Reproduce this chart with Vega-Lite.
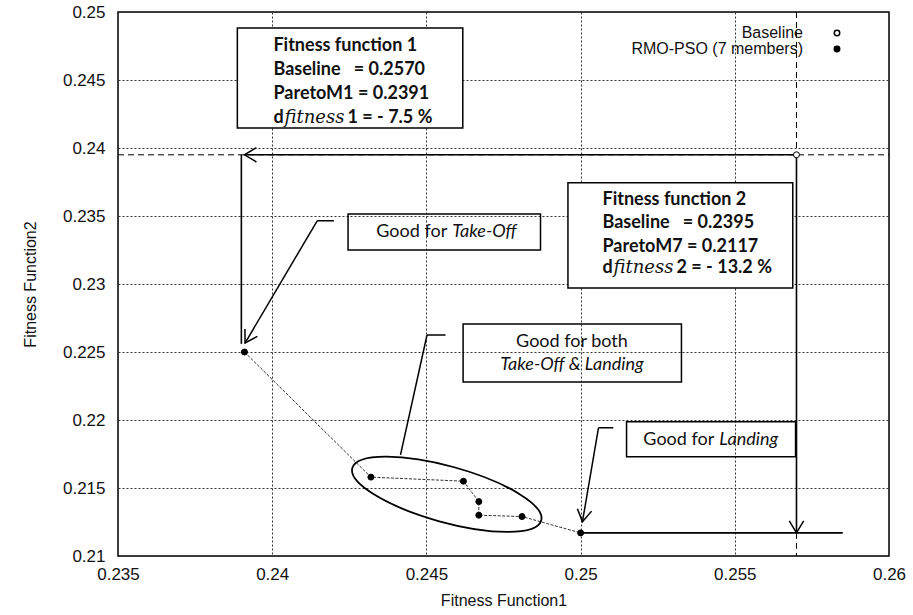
{
  "$schema": "https://vega.github.io/schema/vega-lite/v6.json",
  "width": 771,
  "height": 544,
  "autosize": {"type": "none"},
  "padding": {"left": 118, "top": 12, "right": 24, "bottom": 59},
  "background": "white",
  "config": {
    "view": {"stroke": "black", "strokeWidth": 1.5},
    "axis": {
      "labelFont": "Liberation Sans", "labelFontSize": 17, "labelColor": "#111",
      "titleFont": "Liberation Sans", "titleFontSize": 16, "titleFontWeight": "normal", "titleColor": "#111",
      "domain": false, "ticks": false, "grid": true, "gridDash": [2, 2], "gridColor": "#333", "gridWidth": 1,
      "labelFlush": false, "labelOverlap": false
    }
  },
  "datasets": {
    "pts": [
      {"x": 0.2391, "y": 0.2250, "series": "RMO-PSO (7 members)", "m": 1},
      {"x": 0.2432, "y": 0.2158, "series": "RMO-PSO (7 members)", "m": 2},
      {"x": 0.2462, "y": 0.2155, "series": "RMO-PSO (7 members)", "m": 3},
      {"x": 0.2467, "y": 0.2140, "series": "RMO-PSO (7 members)", "m": 4},
      {"x": 0.2467, "y": 0.2130, "series": "RMO-PSO (7 members)", "m": 5},
      {"x": 0.2481, "y": 0.2129, "series": "RMO-PSO (7 members)", "m": 6},
      {"x": 0.2500, "y": 0.2117, "series": "RMO-PSO (7 members)", "m": 7},
      {"x": 0.2570, "y": 0.2395, "series": "Baseline", "m": 0}
    ],
    "dashed": [
      {"x": 0.235, "y": 0.2395, "x2": 0.26, "y2": 0.2395},
      {"x": 0.257, "y": 0.25, "x2": 0.257, "y2": 0.2395},
      {"x": 0.257, "y": 0.2117, "x2": 0.257, "y2": 0.21}
    ],
    "solid": [
      {"x": 0.2391, "y": 0.2395, "x2": 0.2570, "y2": 0.2395},
      {"x": 0.2390, "y": 0.2395, "x2": 0.2390, "y2": 0.2256},
      {"x": 0.2570, "y": 0.2395, "x2": 0.2570, "y2": 0.2117},
      {"x": 0.2500, "y": 0.2117, "x2": 0.2585, "y2": 0.2117}
    ],
    "leaders": [
      {"x": 0.24146, "y": 0.23465, "x2": 0.24200, "y2": 0.23465},
      {"x": 0.24146, "y": 0.23465, "x2": 0.23912, "y2": 0.22566},
      {"x": 0.24502, "y": 0.22625, "x2": 0.24562, "y2": 0.22625},
      {"x": 0.24502, "y": 0.22625, "x2": 0.24416, "y2": 0.21743},
      {"x": 0.25058, "y": 0.21943, "x2": 0.25106, "y2": 0.21943},
      {"x": 0.25058, "y": 0.21943, "x2": 0.25006, "y2": 0.21252}
    ],
    "bigboxes": [
      {"x": 0.23887, "x2": 0.24618, "y": 0.24882, "y2": 0.24147},
      {"x": 0.24959, "x2": 0.25688, "y": 0.23745, "y2": 0.22971}
    ],
    "smallboxes": [
      {"x": 0.24246, "x2": 0.24870, "y": 0.23515, "y2": 0.23250},
      {"x": 0.24619, "x2": 0.25327, "y": 0.22706, "y2": 0.22279},
      {"x": 0.25149, "x2": 0.25697, "y": 0.21988, "y2": 0.21730}
    ],
    "boxtext": [
      {"x": 0.24004, "y": 0.24750, "t": "Fitness function 1"},
      {"x": 0.24004, "y": 0.24574, "t": "Baseline\u00a0\u00a0\u00a0= 0.2570"},
      {"x": 0.24004, "y": 0.24397, "t": "ParetoM1 = 0.2391"},
      {"x": 0.25071, "y": 0.23618, "t": "Fitness function 2"},
      {"x": 0.25071, "y": 0.23446, "t": "Baseline\u00a0\u00a0\u00a0= 0.2395"},
      {"x": 0.25071, "y": 0.23274, "t": "ParetoM7 = 0.2117"}
    ],
    "dline": [
      {"x": 0.24004, "y": 0.24221, "rest": "1 = - 7.5 %"},
      {"x": 0.25071, "y": 0.23115, "rest": "2 = - 13.2 %"}
    ],
    "goodfor": [
      {"x": 0.24574, "y": 0.23385, "it": "Take-Off"},
      {"x": 0.25440, "y": 0.21853, "it": "Landing"}
    ],
    "both": [
      {"x": 0.24972, "y": 0.22576, "t": "Good for both", "s": "normal"},
      {"x": 0.24972, "y": 0.22404, "t": "Take-Off & Landing", "s": "italic"}
    ]
  },
  "encoding": {
    "x": {
      "field": "x", "type": "quantitative",
      "scale": {"domain": [0.235, 0.26], "nice": false, "zero": false},
      "axis": {"values": [0.235, 0.24, 0.245, 0.25, 0.255, 0.26], "format": "~g", "title": "Fitness Function1", "labelPadding": 10, "titlePadding": 10}
    },
    "y": {
      "field": "y", "type": "quantitative",
      "scale": {"domain": [0.21, 0.25], "nice": false, "zero": false},
      "axis": {"values": [0.21, 0.215, 0.22, 0.225, 0.23, 0.235, 0.24, 0.245, 0.25], "format": "~g", "title": "Fitness Function2", "labelPadding": 13, "titlePadding": 24}
    }
  },
  "layer": [
    {
      "data": {"name": "dashed"},
      "mark": {"type": "rule", "color": "black", "strokeWidth": 1, "strokeDash": [6, 4]},
      "encoding": {"x2": {"field": "x2"}, "y2": {"field": "y2"}}
    },
    {
      "data": {"name": "bigboxes"},
      "mark": {"type": "rect", "fill": "white", "stroke": "black", "strokeWidth": 1.5},
      "encoding": {"x2": {"field": "x2"}, "y2": {"field": "y2"}}
    },
    {
      "data": {"name": "pts"},
      "transform": [{"filter": "datum.series !== 'Baseline'"}],
      "mark": {"type": "line", "color": "#333", "strokeWidth": 1, "strokeDash": [3, 1.5]},
      "encoding": {"order": {"field": "m", "type": "quantitative"}}
    },
    {
      "data": {"values": [{"x": 0.24566, "y": 0.21454}]},
      "mark": {
        "type": "point", "filled": false, "opacity": 1, "stroke": "black", "strokeWidth": 1.8,
        "shape": "M -1 0 C -1 -0.158 -0.5523 -0.286 0 -0.286 C 0.5523 -0.286 1 -0.158 1 0 C 1 0.158 0.5523 0.286 0 0.286 C -0.5523 0.286 -1 0.158 -1 0 Z",
        "size": 38416, "angle": 15.5
      }
    },
    {
      "data": {"name": "solid"},
      "mark": {"type": "rule", "color": "black", "strokeWidth": 1.6},
      "encoding": {"x2": {"field": "x2"}, "y2": {"field": "y2"}}
    },
    {
      "data": {"name": "leaders"},
      "mark": {"type": "rule", "color": "black", "strokeWidth": 1.5},
      "encoding": {"x2": {"field": "x2"}, "y2": {"field": "y2"}}
    },
    {
      "data": {"values": [{"x": 0.2391, "y": 0.2395}]},
      "mark": {"type": "point", "filled": false, "opacity": 1, "stroke": "black", "strokeWidth": 1.5, "shape": "M -1 -0.6 L 0 0 L -1 0.6", "size": 576, "angle": 180}
    },
    {
      "data": {"values": [{"x": 0.2570, "y": 0.2117}]},
      "mark": {"type": "point", "filled": false, "opacity": 1, "stroke": "black", "strokeWidth": 1.5, "shape": "M -1 -0.6 L 0 0 L -1 0.6", "size": 576, "angle": 90}
    },
    {
      "data": {"values": [{"x": 0.23912, "y": 0.22566}]},
      "mark": {"type": "point", "filled": false, "opacity": 1, "stroke": "black", "strokeWidth": 1.5, "shape": "M -1 -0.6 L 0 0 L -1 0.6", "size": 576, "angle": 120.4}
    },
    {
      "data": {"values": [{"x": 0.25006, "y": 0.21252}]},
      "mark": {"type": "point", "filled": false, "opacity": 1, "stroke": "black", "strokeWidth": 1.5, "shape": "M -1 -0.6 L 0 0 L -1 0.6", "size": 576, "angle": 99.8}
    },
    {
      "data": {"name": "smallboxes"},
      "mark": {"type": "rect", "fill": "transparent", "stroke": "black", "strokeWidth": 1.5},
      "encoding": {"x2": {"field": "x2"}, "y2": {"field": "y2"}}
    },
    {
      "data": {"name": "pts"},
      "mark": {"type": "point", "shape": "circle", "filled": true, "stroke": "black", "strokeWidth": 1, "size": 36, "opacity": 1},
      "encoding": {
        "fill": {
          "field": "series", "type": "nominal",
          "scale": {"domain": ["Baseline", "RMO-PSO (7 members)"], "range": ["white", "black"]},
          "legend": {
            "title": null, "orient": "none", "legendX": 711, "legendY": 13,
            "labelAlign": "right", "labelOffset": -42, "labelLimit": 400,
            "labelFont": "Liberation Sans", "labelFontSize": 16, "labelColor": "#111",
            "symbolType": "circle", "symbolSize": 30, "symbolStrokeColor": "black", "symbolStrokeWidth": 1.5,
            "rowPadding": -1
          }
        }
      }
    },
    {
      "data": {"name": "boxtext"},
      "mark": {"type": "text", "align": "left", "baseline": "middle", "font": "Lato", "fontWeight": "bold", "fontSize": 18, "color": "#111"},
      "encoding": {"text": {"field": "t"}}
    },
    {
      "data": {"name": "dline"},
      "mark": {"type": "text", "align": "left", "baseline": "middle", "font": "Lato", "fontWeight": "bold", "fontSize": 18, "color": "#111"},
      "encoding": {"text": {"value": "d"}}
    },
    {
      "data": {"name": "dline"},
      "mark": {"type": "text", "align": "left", "baseline": "middle", "font": "DejaVu Serif", "fontStyle": "italic", "fontSize": 18, "color": "#111", "dx": 11},
      "encoding": {"text": {"value": "fitness"}}
    },
    {
      "data": {"name": "dline"},
      "mark": {"type": "text", "align": "left", "baseline": "middle", "font": "Lato", "fontWeight": "bold", "fontSize": 18, "color": "#111", "dx": 74},
      "encoding": {"text": {"field": "rest"}}
    },
    {
      "data": {"name": "goodfor"},
      "mark": {"type": "text", "align": "right", "baseline": "middle", "font": "Lato", "fontSize": 18, "color": "#111", "dx": -2},
      "encoding": {"text": {"value": "Good for"}}
    },
    {
      "data": {"name": "goodfor"},
      "mark": {"type": "text", "align": "left", "baseline": "middle", "font": "Lato", "fontStyle": "italic", "fontSize": 18, "color": "#111", "dx": 3},
      "encoding": {"text": {"field": "it"}}
    },
    {
      "data": {"name": "both"},
      "transform": [{"filter": "datum.s === 'normal'"}],
      "mark": {"type": "text", "align": "center", "baseline": "middle", "font": "Lato", "fontSize": 18, "color": "#111"},
      "encoding": {"text": {"field": "t"}}
    },
    {
      "data": {"name": "both"},
      "transform": [{"filter": "datum.s === 'italic'"}],
      "mark": {"type": "text", "align": "center", "baseline": "middle", "font": "Lato", "fontStyle": "italic", "fontSize": 18, "color": "#111"},
      "encoding": {"text": {"field": "t"}}
    }
  ]
}
